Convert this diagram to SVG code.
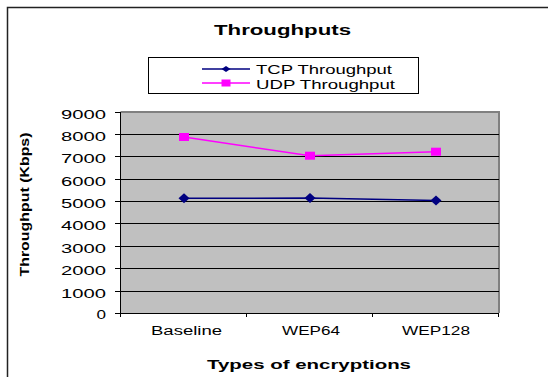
<svg xmlns="http://www.w3.org/2000/svg" width="548" height="377" viewBox="0 0 548 377">
<style>
text{font-family:"Liberation Sans",Arial,sans-serif;fill:#000}
.t{font-size:15px;font-weight:bold}
.ax{font-size:13px;font-weight:bold}
.yl{font-size:13px}
.xl{font-size:12.5px}
.lg{font-size:13px}
.grid{stroke:#000;stroke-width:1}
.tick{stroke:#000;stroke-width:1}
.tcp{stroke:#000080;stroke-width:1.5;fill:none}
.udp{stroke:#FF00FF;stroke-width:1.5;fill:none}
</style>
<defs>
<path id="dia" d="M-5.5,0 L0,-5 L5.5,0 L0,5 Z" fill="#000080"/>
<rect id="sq" x="-5" y="-4" width="10" height="8" fill="#FF00FF"/>
</defs>
<rect width="548" height="377" fill="#fff"/>
<path d="M7.5,377 V7.5 H548" fill="none" stroke="#222" stroke-width="1.5"/>
<g id="title"><text class="t" x="214" y="34.5" textLength="137" lengthAdjust="spacingAndGlyphs">Throughputs</text></g>
<g id="legend">
<rect x="148.5" y="57.5" width="270" height="36" fill="#fff" stroke="#000" stroke-width="1"/>
<line x1="202" y1="69" x2="250" y2="69" class="tcp"/>
<path d="M221.5,69 L226,66 L230.5,69 L226,72 Z" fill="#000080"/>
<text class="lg" x="256" y="74" textLength="136" lengthAdjust="spacingAndGlyphs">TCP Throughput</text>
<line x1="202" y1="83" x2="250" y2="83" class="udp"/>
<rect x="221.5" y="79.5" width="9" height="7" fill="#FF00FF"/>
<text class="lg" x="256" y="89" textLength="139" lengthAdjust="spacingAndGlyphs">UDP Throughput</text>
</g>
<g id="plot">
<rect x="120.5" y="112" width="378.5" height="201" fill="#C0C0C0"/>
<path d="M120.5,112 H499 V313" fill="none" stroke="#808080" stroke-width="2"/>
<g class="grid">
<line x1="120.5" y1="134.5" x2="499" y2="134.5"/>
<line x1="120.5" y1="156.5" x2="499" y2="156.5"/>
<line x1="120.5" y1="179.5" x2="499" y2="179.5"/>
<line x1="120.5" y1="201.5" x2="499" y2="201.5"/>
<line x1="120.5" y1="223.5" x2="499" y2="223.5"/>
<line x1="120.5" y1="246.5" x2="499" y2="246.5"/>
<line x1="120.5" y1="268.5" x2="499" y2="268.5"/>
<line x1="120.5" y1="291.5" x2="499" y2="291.5"/>
</g>
<path d="M120.5,112 V317 M115,313.5 H499" fill="none" stroke="#000" stroke-width="1"/>
<g class="tick">
<line x1="115" y1="112.5" x2="120.5" y2="112.5"/>
<line x1="115" y1="134.5" x2="120.5" y2="134.5"/>
<line x1="115" y1="156.5" x2="120.5" y2="156.5"/>
<line x1="115" y1="179.5" x2="120.5" y2="179.5"/>
<line x1="115" y1="201.5" x2="120.5" y2="201.5"/>
<line x1="115" y1="223.5" x2="120.5" y2="223.5"/>
<line x1="115" y1="246.5" x2="120.5" y2="246.5"/>
<line x1="115" y1="268.5" x2="120.5" y2="268.5"/>
<line x1="115" y1="291.5" x2="120.5" y2="291.5"/>
<line x1="246.5" y1="313" x2="246.5" y2="317"/>
<line x1="372.5" y1="313" x2="372.5" y2="317"/>
<line x1="498.5" y1="313" x2="498.5" y2="317"/>
</g>
</g>
<g id="y-labels" class="yl">
<text x="61" y="119" textLength="45" lengthAdjust="spacingAndGlyphs">9000</text>
<text x="61" y="141" textLength="45" lengthAdjust="spacingAndGlyphs">8000</text>
<text x="61" y="163" textLength="45" lengthAdjust="spacingAndGlyphs">7000</text>
<text x="61" y="186" textLength="45" lengthAdjust="spacingAndGlyphs">6000</text>
<text x="61" y="208" textLength="45" lengthAdjust="spacingAndGlyphs">5000</text>
<text x="61" y="230" textLength="45" lengthAdjust="spacingAndGlyphs">4000</text>
<text x="61" y="253" textLength="45" lengthAdjust="spacingAndGlyphs">3000</text>
<text x="61" y="275" textLength="45" lengthAdjust="spacingAndGlyphs">2000</text>
<text x="61" y="298" textLength="45" lengthAdjust="spacingAndGlyphs">1000</text>
<text x="96.5" y="319" textLength="9.5" lengthAdjust="spacingAndGlyphs">0</text>
</g>
<g id="x-labels" class="xl">
<text x="151" y="335" textLength="71" lengthAdjust="spacingAndGlyphs">Baseline</text>
<text x="282" y="335" textLength="58" lengthAdjust="spacingAndGlyphs">WEP64</text>
<text x="402" y="335" textLength="68" lengthAdjust="spacingAndGlyphs">WEP128</text>
</g>
<g id="axis-titles">
<text class="ax" x="207" y="369" textLength="204" lengthAdjust="spacingAndGlyphs">Types of encryptions</text>
<text class="ax" transform="translate(28.5,204.5) rotate(-90)" text-anchor="middle" textLength="144" lengthAdjust="spacingAndGlyphs">Throughput (Kbps)</text>
</g>
<g id="connectors">
<polyline class="tcp" points="184,198.3 310,198 436,200.5"/>
<polyline class="udp" points="184,137 310,155.7 436,151.7"/>
</g>
<g id="tcp-markers">
<use href="#dia" x="184" y="198.3"/>
<use href="#dia" x="310" y="198"/>
<use href="#dia" x="436" y="200.5"/>
</g>
<g id="udp-markers">
<use href="#sq" x="184" y="137"/>
<use href="#sq" x="310" y="155.7"/>
<use href="#sq" x="436" y="151.7"/>
</g>
</svg>
